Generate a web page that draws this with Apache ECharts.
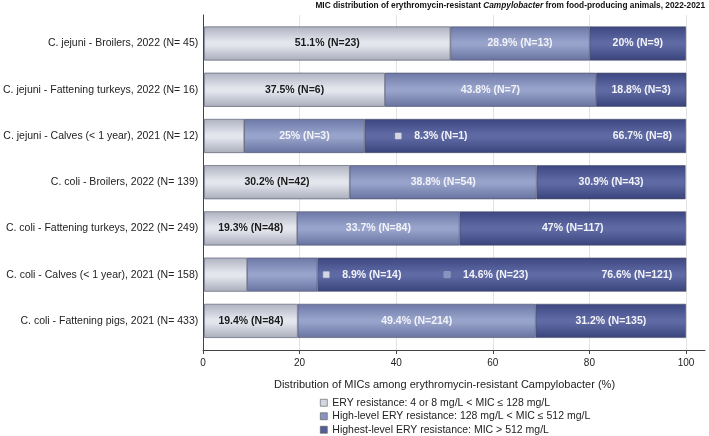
<!DOCTYPE html>
<html>
<head>
<meta charset="utf-8">
<script src="https://cdn.jsdelivr.net/npm/echarts@6/dist/echarts.min.js"></script>
<style>html,body{margin:0;padding:0;background:#fff}#c{width:709px;height:436px}</style>
</head>
<body>
<div id="c"></div>
<script>
const categories = [
  'C. jejuni - Broilers, 2022 (N= 45)',
  'C. jejuni - Fattening turkeys, 2022 (N= 16)',
  'C. jejuni - Calves (< 1 year), 2021 (N= 12)',
  'C. coli - Broilers, 2022 (N= 139)',
  'C. coli - Fattening turkeys, 2022 (N= 249)',
  'C. coli - Calves (< 1 year), 2021 (N= 158)',
  'C. coli - Fattening pigs, 2021 (N= 433)'
];
const seriesNames = [
  'ERY resistance: 4 or 8 mg/L < MIC \u2264 128 mg/L',
  'High-level ERY resistance: 128 mg/L < MIC \u2264 512 mg/L',
  'Highest-level ERY resistance: MIC > 512 mg/L'
];
const eryPct = [51.1, 37.5, 8.3, 30.2, 19.3, 8.9, 19.4];
const eryN = [23, 6, 1, 42, 48, 14, 84];
const highPct = [28.9, 43.8, 25, 38.8, 33.7, 14.6, 49.4];
const highN = [13, 7, 3, 54, 84, 23, 214];
const highestPct = [20, 18.8, 66.7, 30.9, 47, 76.6, 31.2];
const highestN = [9, 3, 8, 43, 117, 121, 135];
const xTicks = [0, 20, 40, 60, 80, 100];

const pcts = [eryPct, highPct, highestPct];
const counts = [eryN, highN, highestN];

// styling
const grads = [
  ['#aeb2c0', '#e4e6ee', '#a9adbb'],
  ['#6c77a6', '#98a3cb', '#67729f'],
  ['#3c4680', '#5f6aa4', '#39437b']
];
const flatColors = ['#d4d7e2', '#8893c0', '#535e99'];
const labelColors = ['#1a1a1a', '#f2f3f8', '#f2f3f8'];
// labels that do not fit are moved (series index - data index -> layout)
const moved = {
  '0-2': {pos: 191, marker: true},
  '0-5': {pos: 119, marker: true},
  '1-5': {pos: 197, marker: true},
  '2-2': {right: 14},
  '2-5': {right: 14}
};

function grad(c) {
  return new echarts.graphic.LinearGradient(0, 0, 0, 1, [
    {offset: 0, color: c[0]}, {offset: 0.45, color: c[1]}, {offset: 0.55, color: c[1]}, {offset: 1, color: c[2]}
  ]);
}

const series = pcts.map((arr, si) => ({
  name: seriesNames[si],
  type: 'bar',
  stack: 'all',
  xAxisIndex: 0,
  yAxisIndex: 0,
  barWidth: 34,
  z: 5 - si,
  itemStyle: {color: grad(grads[si]), borderColor: '#4a4f66', borderWidth: 0.6},
  label: {
    show: true,
    position: 'inside',
    color: labelColors[si],
    fontFamily: 'Liberation Sans',
    fontSize: 10.5,
    fontWeight: 'bold'
  },
  data: arr.map((v, di) => {
    const txt = v + '% (N=' + counts[si][di] + ')';
    const m = moved[si + '-' + di];
    if (!m) return {value: v, label: {formatter: txt}};
    if (m.right) return {value: v, label: {formatter: txt, position: 'insideRight', distance: m.right}};
    return {
      value: v,
      label: {
        position: [m.pos, '50%'], align: 'left', verticalAlign: 'middle',
        color: '#f2f3f8',
        formatter: '{m|}{g|}' + txt,
        rich: {
          m: {width: 6, height: 6, backgroundColor: flatColors[si], borderColor: '#9aa0b8', borderWidth: 0.5},
          g: {width: 13}
        }
      }
    };
  })
}));

const chart = echarts.init(document.getElementById('c'), null, {renderer: 'canvas'});
chart.setOption({
  animation: false,
  backgroundColor: '#fff',
  title: {
    right: 4, top: 2, padding: 0,
    text: '{b|MIC distribution of erythromycin-resistant }{i|Campylobacter}{b| from food-producing animals, 2022-2021}',
    textStyle: {
      rich: {
        b: {fontFamily: 'Liberation Sans', fontSize: 8.3, fontWeight: 'bold', color: '#111'},
        i: {fontFamily: 'Liberation Sans', fontSize: 8.3, fontWeight: 'bold', fontStyle: 'italic', color: '#111'}
      }
    }
  },
  legend: {
    orient: 'vertical', left: 320, top: 397, height: 46, padding: 0,
    icon: 'rect',
    itemWidth: 7, itemHeight: 7, itemGap: 2,
    textStyle: {fontFamily: 'Liberation Sans', fontSize: 10.5, color: '#222', lineHeight: 11.5},
    data: seriesNames.map((n, i) => ({name: n, itemStyle: {color: flatColors[i], borderColor: '#555', borderWidth: 0.6}}))
  },
  grid: [
    {left: 203, right: 23, top: 20.4, bottom: 92},
    {left: 203, right: 23, top: 15, bottom: 86},
    {left: 203, right: 4, top: 15, bottom: 86}
  ],
  xAxis: [
    {gridIndex: 0, type: 'value', min: 0, max: 100, show: false},
    {
      gridIndex: 1, type: 'value', min: 0, max: 100, interval: 20,
      axisLine: {show: false},
      axisTick: {show: true, length: 4, lineStyle: {color: '#444'}},
      axisLabel: {fontFamily: 'Liberation Sans', fontSize: 10, color: '#222', margin: 8},
      splitLine: {show: true, lineStyle: {color: '#e3e3e3', width: 1}},
      name: 'Distribution of MICs among erythromycin-resistant Campylobacter (%)',
      nameLocation: 'middle', nameGap: 29,
      nameTextStyle: {fontFamily: 'Liberation Sans', fontSize: 11, color: '#222'}
    },
    {
      gridIndex: 2, type: 'value', min: 0, max: 1,
      axisLine: {show: true, onZero: false, lineStyle: {color: '#444', width: 1}},
      axisTick: {show: false}, axisLabel: {show: false}, splitLine: {show: false}
    }
  ],
  yAxis: [
    {
      gridIndex: 0, type: 'category', inverse: true, data: categories,
      axisLine: {show: false}, axisTick: {show: false},
      axisLabel: {fontFamily: 'Liberation Sans', fontSize: 10.5, color: '#222', margin: 6}
    },
    {
      gridIndex: 1, type: 'category', inverse: true, data: categories,
      axisLine: {show: true, lineStyle: {color: '#444', width: 1}},
      axisTick: {show: false}, axisLabel: {show: false}, splitLine: {show: false}
    },
    {gridIndex: 2, type: 'category', data: categories, show: false}
  ],
  series: series
});
</script>
</body>
</html>
